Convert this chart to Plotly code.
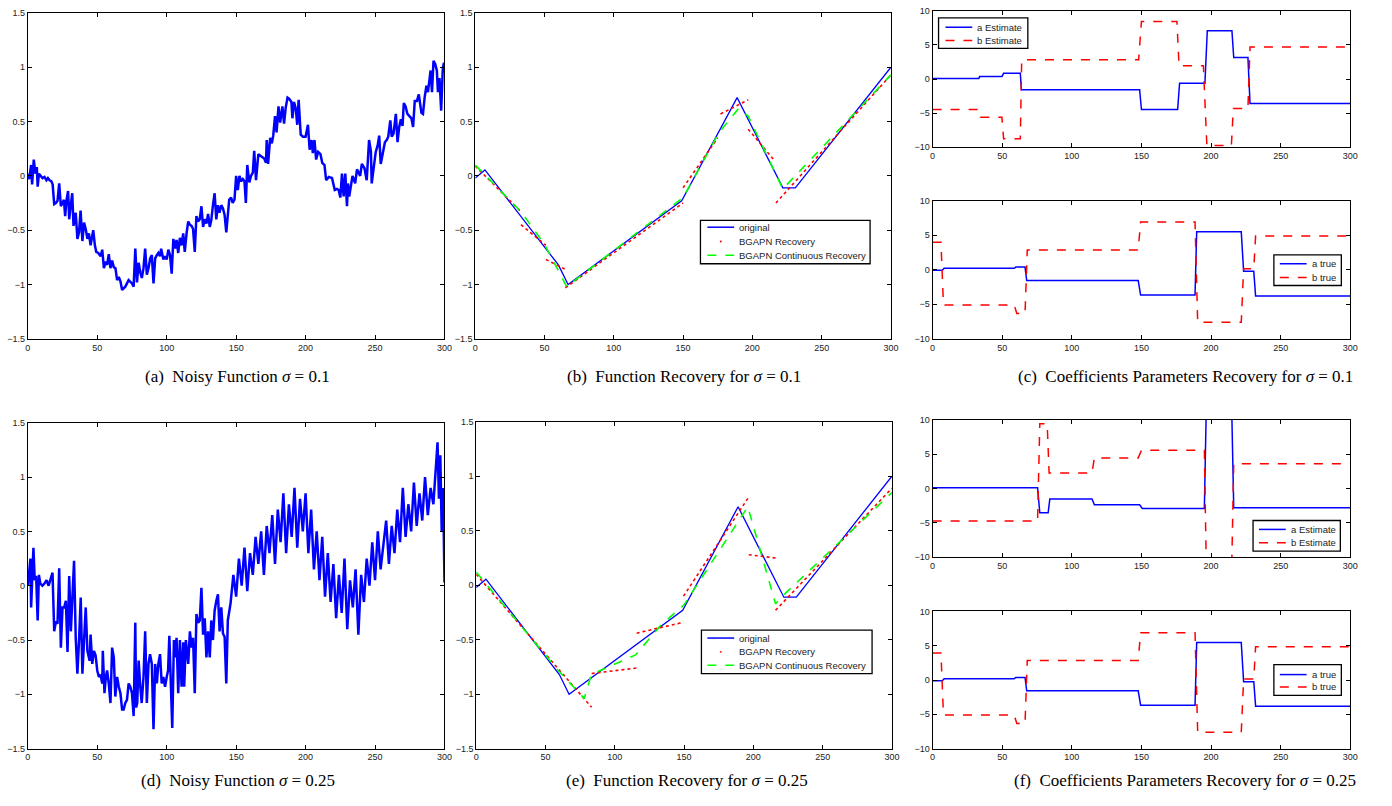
import plotly.graph_objects as go

# ---------------- data ----------------
# (a) noisy function sigma = 0.1
x_a = [0,1,2.4,3.1,4.3,5.5,6.5,7.1,8,9.5,10.6,12,13.4,14.5,15.7,17,17.9,19,20.2,21.4,22.6,23.8,25,26,26.9,27.8,29,29.8,31,32,32.9,34.5,35.7,36.9,38,39.3,40.5,41.7,42.9,44,45.2,46.4,47.1,48.3,49.3,50.7,52.4,53.6,54.8,56,57.1,58.3,59.5,60.7,61.9,63.1,64.3,65.5,66.7,67.9,70.2,72.6,75,76.2,77.4,78.6,79.8,81,82.1,83.3,84.5,85.7,86.9,88.1,89.3,90.5,91.7,92.9,94,95.2,96,97.6,98.8,100,101.2,102.4,103.6,104.8,106,107.1,108.3,109.5,110.7,111.9,113,114.3,115.5,116.7,117.9,119,120.2,121.4,122.6,123.8,125,126.2,127.4,128.6,129.8,131,132.1,133.3,134.5,135.7,136.9,138,139.3,140.5,141.7,142.9,144,145,146.4,147.5,148.8,150,151.2,152.4,153.6,154.8,156,157,158,159.5,160.7,162,163,164.3,166,167.9,169.1,170.2,171.5,172,173,174.5,175.7,176.7,178,179.1,180.5,181.7,183.3,184.5,185.7,187,188.1,189.8,190.5,191.7,192.9,194,195,196.5,198.1,200,201.7,202.9,204.3,205.2,206.4,207.6,209,210.7,212,213.6,214.8,216.7,219,221,222.6,223.8,225,226.2,227.4,228.6,229.8,230.5,231.4,232.6,233.8,235.7,237,239.3,240.5,242.4,244,245.7,247,247.6,249.3,250.5,251.9,253,254.1,256,257.1,258.4,259.5,261,262,263.3,265,266.2,267.4,268.6,269.8,270.7,272,273.3,275,276.2,277.4,278.6,280.2,281.5,283.4,284.5,285.7,287,288.1,289.3,290,291,292.1,293.3,294.5,295.3,296.4,297.6,298.8,299.6,300]
y_a = [0.02,-0.03,0.10,-0.08,0.15,0.02,0.08,-0.10,0.02,0.0,-0.02,-0.01,-0.04,-0.02,-0.04,-0.05,-0.08,-0.26,-0.25,-0.23,-0.07,-0.28,-0.24,-0.22,-0.37,-0.23,-0.14,-0.40,-0.26,-0.16,-0.46,-0.34,-0.58,-0.52,-0.32,-0.60,-0.43,-0.49,-0.58,-0.53,-0.64,-0.55,-0.50,-0.64,-0.70,-0.71,-0.74,-0.68,-0.85,-0.79,-0.82,-0.72,-0.85,-0.78,-0.84,-0.85,-0.96,-0.93,-0.97,-1.05,-1.02,-0.96,-0.99,-1.02,-0.67,-0.98,-0.80,-0.89,-0.94,-0.85,-0.67,-0.91,-0.85,-0.76,-0.73,-0.99,-0.76,-0.73,-0.71,-0.74,-0.67,-0.77,-0.74,-0.77,-0.68,-0.73,-0.90,-0.58,-0.67,-0.59,-0.71,-0.57,-0.64,-0.53,-0.70,-0.53,-0.42,-0.45,-0.46,-0.49,-0.70,-0.37,-0.42,-0.40,-0.28,-0.47,-0.40,-0.44,-0.35,-0.47,-0.41,-0.27,-0.16,-0.40,-0.27,-0.34,-0.27,-0.30,-0.36,-0.52,-0.38,-0.22,-0.20,-0.25,-0.22,0.00,-0.13,0.0,-0.05,-0.03,-0.05,-0.25,0.10,-0.06,0.0,0.03,0.23,-0.04,0.20,0.18,0.17,0.16,0.12,0.33,0.11,0.35,0.30,0.37,0.55,0.40,0.64,0.49,0.64,0.48,0.63,0.72,0.71,0.68,0.53,0.68,0.62,0.47,0.70,0.38,0.36,0.36,0.47,0.24,0.33,0.21,0.33,0.15,0.22,0.20,0.12,0.10,-0.04,-0.01,-0.02,-0.13,-0.12,-0.13,-0.20,0.02,-0.19,0.02,-0.28,-0.07,-0.19,-0.08,0.00,-0.07,0.06,0.00,0.11,0.07,-0.04,0.33,0.23,-0.07,0.09,0.22,0.28,0.37,0.11,0.23,0.31,0.33,0.36,0.51,0.36,0.39,0.57,0.31,0.45,0.52,0.46,0.67,0.64,0.57,0.54,0.53,0.45,0.69,0.69,0.75,0.58,0.57,0.72,0.83,0.77,0.92,0.97,0.77,1.06,1.03,0.97,0.77,0.90,0.60,0.99,1.04,0.95]

# (d) noisy function sigma = 0.25
x_d = [0,1.9,2.4,3.1,4.05,5,6,7.1,8,9,10.5,12,13.5,15,17.8,19,20.2,21.4,22.6,23.8,25,26.2,27.4,28.6,29.8,31,32,33.3,34.5,35.7,36.9,38.1,39.3,40.5,41.7,42.9,44.5,45.2,46.4,47.6,48.8,50,51.2,52.4,53.6,54,55.2,56.2,57.1,58.3,59.5,60.7,61.9,63,64.3,65.5,66.7,67.9,69,70.2,71.4,72.6,73.8,75,76.2,77.4,78,78.8,79.8,81,82,83.3,84.5,85.7,86.9,88,89.3,90.5,91.7,92.9,94,95.2,96.4,97.6,98.8,100,101,101.9,102.9,104,105.2,106,107.1,108.3,109.5,110.7,111.9,112.6,113.8,115.5,116.7,117.9,119,120.2,121.4,122.6,123.8,125,126.2,127.4,128.6,129.8,131,132.1,133.3,134.5,135.7,136.9,138.1,139.3,140.5,141.7,142.9,144,146,148,150,152,154,156,158,160,162,164,166,168,170,172,174,176,178,180,182,184,186,188,190,192,194,196,198,200,202,204,206,208,210,212,214,216,218,220,222,224,226,228,230,232,234,236,238,240,242,244,246,248,250,252,254,256,258,260,262,264,266,268,270,272,274,276,278,280,282,284,286,288,290,292,294,295,296,297,298,299,300]
y_d = [0.0,0.25,-0.2,0.0,0.35,0.05,0.09,-0.32,0.10,0.02,0.0,0.02,0.05,0.0,0.12,-0.42,-0.33,-0.35,0.16,-0.57,-0.2,-0.2,-0.14,-0.61,0.09,-0.42,-0.12,0.23,-0.48,-0.81,-0.5,-0.11,-0.81,-0.56,-0.2,-0.6,-0.69,-0.45,-0.72,-0.6,-0.64,-0.78,-0.84,-0.82,-0.9,-0.6,-0.99,-0.84,-0.78,-0.9,-1.08,-0.57,-0.66,-1.02,-0.84,-0.93,-0.99,-1.14,-1.14,-1.08,-1.05,-0.90,-0.93,-0.99,-1.20,-0.34,-1.12,-1.08,-0.69,-0.93,-1.08,-0.84,-0.42,-1.08,-0.72,-0.63,-0.72,-1.32,-0.72,-0.9,-0.72,-0.63,-0.9,-0.84,-0.93,-0.84,-0.78,-0.46,-0.93,-1.31,-0.5,-0.66,-0.48,-0.99,-0.5,-0.93,-0.52,-0.93,-0.5,-0.72,-0.42,-0.57,-0.48,-0.99,-0.26,-0.34,-0.32,-0.02,-0.45,-0.3,-0.66,-0.42,-0.66,-0.32,-0.5,-0.23,-0.14,-0.08,-0.42,-0.2,-0.44,-0.47,-0.9,-0.32,-0.16,0.1,-0.1,0.25,0.0,0.35,-0.05,0.3,0.1,0.45,0.2,0.5,0.1,0.55,0.3,0.65,0.2,0.7,0.4,0.85,0.3,0.75,0.45,0.9,0.35,0.8,0.5,0.85,0.3,0.7,0.15,0.5,0.05,0.45,-0.1,0.3,-0.15,0.2,-0.3,0.1,-0.25,0.25,-0.4,0.05,-0.2,0.15,-0.45,0.1,-0.15,0.25,0.0,0.4,0.05,0.5,0.15,0.35,0.6,0.2,0.55,0.3,0.7,0.4,0.9,0.45,0.75,0.5,0.95,0.55,0.85,0.6,1.0,0.65,0.9,0.75,1.1,1.32,0.8,1.2,0.5,0.9,0.03]

# original piecewise-linear function
orig_x = [0, 7, 60, 67, 149, 189, 222, 231, 300]
orig_y = [-0.02, 0.055, -0.82, -1.0, -0.23, 0.72, -0.11, -0.11, 1.0]

# (b) recovery sigma = 0.1
recb_x = [0, 33, None, 33, 51, None, 51, 65, None, 65, 150, None, 150, 175, None, 177, 197, None, 197, 216, None, 217, 300]
recb_y = [0.09, -0.33, None, -0.45, -0.64, None, -0.77, -0.86, None, -1.03, -0.25, None, -0.11, 0.35, None, 0.57, 0.70, None, 0.43, 0.14, None, -0.25, 0.93]
contb_x = [0, 33, 50, 66, 150, 176, 190, 197, 222, 300]
contb_y = [0.10, -0.33, -0.63, -1.02, -0.20, 0.40, 0.62, 0.55, -0.12, 0.93]

# (e) recovery sigma = 0.25
rece_x = [0, 83.3, None, 83.3, 115.8, None, 115.8, 149.6, None, 149.6, 196.7, None, 196.7, 216, None, 216, 300]
rece_y = [0.10, -1.12, None, -0.81, -0.76, None, -0.44, -0.34, None, -0.10, 0.81, None, 0.28, 0.25, None, -0.23, 0.89]
conte_x = [0, 59, 78, 83, 115, 133, 150, 196, 216, 221, 300]
conte_y = [0.12, -0.78, -1.04, -0.82, -0.64, -0.37, -0.18, 0.72, -0.17, -0.10, 0.85]

# (c) top: estimated coefficients sigma = 0.1
ca_x = [0, 33.2, 33.8, 49.8, 51, 63, 63.8, 148.7, 150, 176, 177.4, 195.6, 197.3, 215, 216.3, 226.5, 228, 300]
ca_y = [0.1, 0.1, 0.36, 0.36, 0.84, 0.84, -1.57, -1.57, -4.46, -4.46, -0.6, -0.6, 7.1, 7.1, 3.16, 3.16, -3.59, -3.59]
cb_x = [0, 33.2, 34.4, 49.8, 51, 63, 64, 148, 150, 175.5, 177, 194.5, 197, 214.6, 216, 226.5, 228, 300]
cb_y = [-4.46, -4.46, -5.6, -5.6, -8.75, -8.75, 2.82, 2.82, 8.46, 8.46, 1.95, 1.95, -9.76, -9.76, -4.3, -4.3, 4.7, 4.7]

# true coefficients (c bottom and f bottom)
ta_x = [0, 7, 8.3, 58.6, 59.8, 66.4, 67.6, 147.7, 149.4, 188.5, 189.7, 221.7, 223.4, 230.7, 232, 300]
ta_y = [-0.1, -0.1, 0.19, 0.19, 0.38, 0.38, -1.57, -1.57, -3.67, -3.67, 5.48, 5.48, -0.24, -0.24, -3.81, -3.81]
tb_x = [0, 6, 7.8, 58.6, 60.5, 66.4, 68, 147.7, 149.4, 188.5, 190.4, 221.7, 223.4, 230.7, 232, 300]
tb_y = [3.95, 3.95, -5.1, -5.1, -6.33, -6.33, 2.86, 2.86, 6.9, 6.9, -7.62, -7.62, 0.14, 0.14, 4.86, 4.86]

# (f) top: estimated coefficients sigma = 0.25
fa_x = [0, 75.4, 77, 83, 84.2, 114.5, 116.2, 148.7, 150.6, 195.2, 196.8, 214.6, 216.3, 300]
fa_y = [0.1, 0.1, -3.54, -3.54, -1.53, -1.53, -2.39, -2.39, -2.92, -2.92, 14, 14, -2.82, -2.82]
fb_x = [0, 75.4, 77, 82.3, 83.7, 114.5, 116.2, 147.7, 150, 195.2, 196.8, 214.6, 216.3, 300]
fb_y = [-4.74, -4.74, 9.43, 9.43, 2.25, 2.25, 4.45, 4.45, 5.55, 5.55, -14, -14, 3.59, 3.59]

xticks = [0, 50, 100, 150, 200, 250, 300]
fticks = [-1.5, -1, -0.5, 0, 0.5, 1, 1.5]
cticks = [-10, -5, 0, 5, 10]

captions = ["(a)  Noisy Function <i>σ</i> = 0.1", "(b)  Function Recovery for <i>σ</i> = 0.1",
            "(c)  Coefficients Parameters Recovery for <i>σ</i> = 0.1",
            "(d)  Noisy Function <i>σ</i> = 0.25", "(e)  Function Recovery for <i>σ</i> = 0.25",
            "(f)  Coefficients Parameters Recovery for <i>σ</i> = 0.25"]

rec_names = ["original", "BGAPN Recovery", "BGAPN Continuous Recovery"]
est_names = ["a Estimate", "b Estimate"]
true_names = ["a true", "b true"]

# ---------------- layout helpers ----------------
W, H = 1392, 806
BLUE, RED, GREEN = "#0000FF", "#FF0000", "#00FF00"
TXT = "#222"
FONT = "Liberation Sans, Arial"

def px(v):
    return v / W

def py(v):
    return 1 - v / H

# pixel boxes (left, right, top, bottom)
boxes = {
    1: (25, 445, 8, 338),
    2: (476, 895, 8, 338),
    3: (937, 1358, 6, 144),
    4: (937, 1358, 198, 338),
    5: (25, 445, 423, 753),
    6: (477, 896, 422, 753),
    7: (937, 1358, 420, 559),
    8: (937, 1358, 614, 753),
}

fig = go.Figure()
layout = dict(width=W, height=H, margin=dict(l=0, r=0, t=0, b=0),
              paper_bgcolor="white", plot_bgcolor="white", showlegend=False,
              font=dict(family=FONT, size=9, color=TXT))

for i, (l, r, t, b) in boxes.items():
    yt = cticks if i in (3, 4, 7, 8) else fticks
    yr = [-10, 10] if i in (3, 4, 7, 8) else [-1.5, 1.5]
    common = dict(showline=True, linecolor="black", linewidth=1, mirror="ticks",
                  ticks="inside", ticklen=4, tickcolor="black", showgrid=False,
                  zeroline=False, tickfont=dict(size=9, color=TXT, family=FONT))
    xs = "" if i == 1 else str(i)
    layout["xaxis" + xs] = dict(domain=[px(l), px(r)], range=[0, 300], tickvals=xticks,
                                anchor="y" + xs, **common)
    layout["yaxis" + xs] = dict(domain=[py(b), py(t)], range=yr, tickvals=yt,
                                anchor="x" + xs, **common)

def ax(i):
    return ("x", "y") if i == 1 else ("x" + str(i), "y" + str(i))

# (a)
xa, ya = ax(1)
fig.add_trace(go.Scatter(x=x_a, y=y_a, mode="lines", line=dict(color=BLUE, width=2.5),
                         xaxis=xa, yaxis=ya))
# (d)
xa, ya = ax(5)
fig.add_trace(go.Scatter(x=x_d, y=y_d, mode="lines", line=dict(color=BLUE, width=2.5),
                         xaxis=xa, yaxis=ya))

# (b) and (e)
for i, rx, ry, cx, cy in [(2, recb_x, recb_y, contb_x, contb_y),
                          (6, rece_x, rece_y, conte_x, conte_y)]:
    xa, ya = ax(i)
    fig.add_trace(go.Scatter(x=orig_x, y=orig_y, mode="lines", name=rec_names[0],
                             line=dict(color=BLUE, width=1.3), xaxis=xa, yaxis=ya))
    fig.add_trace(go.Scatter(x=rx, y=ry, mode="lines", name=rec_names[1],
                             line=dict(color=RED, width=1.6, dash="dot"), xaxis=xa, yaxis=ya,
                             connectgaps=False))
    fig.add_trace(go.Scatter(x=cx, y=cy, mode="lines", name=rec_names[2],
                             line=dict(color=GREEN, width=1.6, dash="dash"), xaxis=xa, yaxis=ya))

# coefficient panels
for i, axx, axy, bxx, bxy, names in [
        (3, ca_x, ca_y, cb_x, cb_y, est_names),
        (4, ta_x, ta_y, tb_x, tb_y, true_names),
        (7, fa_x, fa_y, fb_x, fb_y, est_names),
        (8, ta_x, ta_y, tb_x, tb_y, true_names)]:
    xa, ya = ax(i)
    fig.add_trace(go.Scatter(x=axx, y=axy, mode="lines", name=names[0],
                             line=dict(color=BLUE, width=1.5), xaxis=xa, yaxis=ya))
    fig.add_trace(go.Scatter(x=bxx, y=bxy, mode="lines", name=names[1],
                             line=dict(color=RED, width=1.5, dash="dash"), xaxis=xa, yaxis=ya))

# ---------------- hand-drawn MATLAB style legends ----------------
shapes = []
ann = []

def legend_box(l, t, r, b, rows, samp_l, samp_r, text_x, names, styles):
    shapes.append(dict(type="rect", xref="paper", yref="paper", x0=px(l), x1=px(r),
                       y0=py(b), y1=py(t), line=dict(color="black", width=1.3),
                       fillcolor="white", layer="above"))
    for yy, name, st in zip(rows, names, styles):
        color, dash = st
        if dash == "point":
            shapes.append(dict(type="circle", xref="paper", yref="paper",
                               x0=px((samp_l + samp_r) / 2 - 1), x1=px((samp_l + samp_r) / 2 + 1),
                               y0=py(yy + 1), y1=py(yy - 1), fillcolor=color,
                               line=dict(color=color, width=0), layer="above"))
        else:
            shapes.append(dict(type="line", xref="paper", yref="paper", x0=px(samp_l),
                               x1=px(samp_r), y0=py(yy), y1=py(yy),
                               line=dict(color=color, width=1.5, dash=dash), layer="above"))
        ann.append(dict(text=name, x=px(text_x), y=py(yy), xref="paper", yref="paper",
                        xanchor="left", yanchor="middle", showarrow=False,
                        font=dict(family=FONT, size=9.5, color=TXT)))

rec_styles = [(BLUE, "solid"), (RED, "point"), (GREEN, "dash")]
coef_styles = [(BLUE, "solid"), (RED, "dash")]
legend_box(703, 218, 874, 262, [225, 239.5, 253.5], 710, 737, 740, rec_names, rec_styles)
legend_box(704, 633, 876, 677, [641, 655, 668.5], 710, 737, 740, rec_names, rec_styles)
legend_box(943, 13, 1033, 44, [22.5, 36], 950, 977, 980, est_names, coef_styles)
legend_box(1281, 253, 1349, 284, [262, 276], 1287, 1314, 1317, true_names, coef_styles)
legend_box(1260, 522, 1348, 553, [531, 544.5], 1266, 1293, 1296, est_names, coef_styles)
legend_box(1281, 668, 1349, 699, [678, 690.5], 1287, 1314, 1317, true_names, coef_styles)

cap_pos = [(236, 376), (686, 376), (1192, 376), (237, 785), (689, 785), (1191, 785)]
for txt, (cx, cy) in zip(captions, cap_pos):
    ann.append(dict(text=txt, x=px(cx), y=py(cy), xref="paper", yref="paper",
                    xanchor="center", yanchor="middle", showarrow=False,
                    font=dict(family="Liberation Serif, Times New Roman", size=17, color="black")))
layout["annotations"] = ann
layout["shapes"] = shapes

fig.update_layout(**layout)
fig.write_html("out.html", config={"displayModeBar": False},
               post_script="document.body.style.margin='0';")
